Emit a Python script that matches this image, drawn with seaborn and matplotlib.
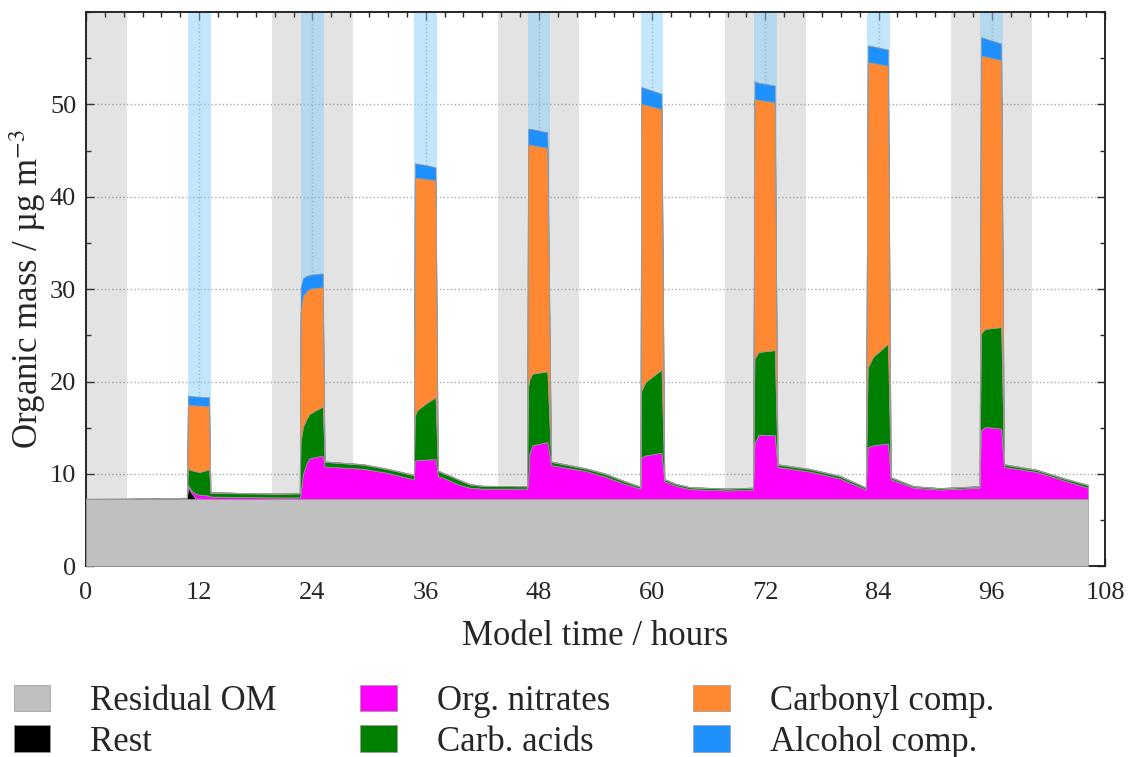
import numpy as np
import pandas as pd
import seaborn as sns
import matplotlib.pyplot as plt
from matplotlib.ticker import MultipleLocator

# model output (knots of the time series, hours)
time_h = [0.0, 4.3, 10.7, 10.8, 11.2, 11.6, 12.0, 12.6, 13.05, 13.2, 16.0, 20.0, 22.65,
          22.75, 23.0, 23.4, 23.7, 24.9, 25.1, 25.3, 29.4, 32.0, 34.75,
          34.85, 35.1, 36.0, 37.05, 37.3, 38.5, 39.6, 40.7, 42.0, 46.75,
          46.85, 47.0, 47.3, 48.9, 49.3, 53.0, 55.0, 57.0, 58.75,
          58.85, 59.3, 61.0, 61.3, 62.5, 64.0, 67.9, 70.7,
          70.85, 71.3, 73.0, 73.3, 76.7, 79.9, 82.65,
          82.85, 83.4, 85.0, 85.3, 87.7, 90.5, 94.7,
          94.85, 95.3, 97.0, 97.3, 100.8, 103.6, 106.2]

residual_om = [7.3] * len(time_h)

rest = [0, 0, 0, 1.3, 0.6, 0.05, 0.02, 0, 0, 0, 0, 0, 0,
        0, 0, 0, 0, 0, 0, 0, 0, 0, 0,
        0, 0, 0, 0, 0, 0, 0, 0, 0, 0,
        0, 0, 0, 0, 0, 0, 0, 0, 0,
        0, 0, 0, 0, 0, 0, 0, 0,
        0, 0, 0, 0, 0, 0, 0,
        0, 0, 0, 0, 0, 0, 0,
        0, 0, 0, 0, 0, 0, 0]

org_nitrates = [0, 0, 0.03, 0.2, 0.3, 0.5, 0.43, 0.4, 0.35, 0.25, 0.2, 0.15, 0.15,
                0.5, 2.7, 3.9, 4.4, 4.65, 4.6, 3.5, 3.25, 2.8, 2.1,
                4.1, 4.2, 4.25, 4.3, 2.5, 2.0, 1.5, 1.2, 1.1, 1.1,
                1.7, 4.9, 5.8, 6.15, 3.65, 3.0, 2.4, 1.65, 1.1,
                4.5, 4.7, 5.0, 1.9, 1.4, 1.05, 0.9, 1.0,
                6.0, 6.95, 6.9, 3.45, 2.95, 2.2, 1.0,
                5.6, 5.8, 6.0, 2.1, 1.2, 1.0, 1.2,
                7.4, 7.8, 7.6, 3.45, 2.9, 2.0, 1.2]

carb_acids = [0, 0.01, 0.08, 1.75, 2.2, 2.45, 2.45, 2.65, 2.85, 0.4, 0.4, 0.4, 0.43,
              5.7, 5.1, 4.8, 4.8, 5.25, 5.35, 0.5, 0.45, 0.4, 0.45,
              4.9, 5.4, 6.05, 6.7, 0.5, 0.5, 0.5, 0.35, 0.3, 0.25,
              10.4, 8.0, 7.75, 7.65, 0.35, 0.25, 0.3, 0.25, 0.2,
              7.2, 7.95, 9.0, 0.2, 0.2, 0.2, 0.2, 0.2,
              9.2, 8.95, 9.2, 0.25, 0.25, 0.25, 0.2,
              8.6, 9.55, 10.8, 0.2, 0.15, 0.15, 0.15,
              10.5, 10.6, 11.0, 0.25, 0.2, 0.2, 0.27]

carbonyl = [0, 0, 0.01, 6.95, 7.05, 7.12, 7.2, 7.03, 6.85, 0.1, 0.05, 0.05, 0.04,
            14.0, 14.2, 13.8, 13.55, 13.0, 12.95, 0.05, 0.05, 0.05, 0.05,
            25.8, 25.15, 24.35, 23.5, 0.05, 0.05, 0.05, 0.05, 0.02, 0.02,
            26.25, 25.47, 24.75, 24.2, 0.05, 0.05, 0.05, 0.05, 0.03,
            31.07, 30.0, 28.2, 0.05, 0.03, 0.02, 0.02, 0.02,
            28.1, 27.3, 26.85, 0.05, 0.05, 0.05, 0.03,
            33.1, 31.85, 30.1, 0.05, 0.03, 0.02, 0.02,
            30.1, 29.5, 28.9, 0.05, 0.05, 0.05, 0.03]

alcohols = [0, 0, 0, 1.0, 0.97, 0.96, 0.96, 0.95, 0.95, 0, 0, 0, 0,
            2.7, 1.9, 1.65, 1.51, 1.5, 1.5, 0, 0, 0, 0,
            1.55, 1.55, 1.5, 1.4, 0, 0, 0, 0, 0, 0,
            1.65, 1.73, 1.73, 1.7, 0, 0, 0, 0, 0,
            1.83, 1.8, 1.66, 0, 0, 0, 0, 0,
            1.9, 1.85, 1.8, 0, 0, 0, 0,
            1.8, 1.8, 1.75, 0, 0, 0, 0,
            2.0, 1.95, 1.8, 0, 0, 0, 0]

labels = ['Residual OM', 'Rest', 'Org. nitrates', 'Carb. acids', 'Carbonyl comp.', 'Alcohol comp.']
colors = ['#c0c0c0', 'black', 'magenta', 'green', '#ff8833', 'dodgerblue']

# night (grey) and cloud (blue) periods
night_start = [-4.3, 19.7, 43.7, 67.7, 91.7]
night_end = [4.3, 28.3, 52.3, 76.3, 100.3]
cloud_start = [10.8, 22.8, 34.8, 46.8, 58.8, 70.8, 82.8, 94.8]
cloud_end = [13.2, 25.2, 37.2, 49.2, 61.2, 73.2, 85.2, 97.2]

df = pd.DataFrame({'time': time_h, 'Residual OM': residual_om, 'Rest': rest,
                   'Org. nitrates': org_nitrates, 'Carb. acids': carb_acids,
                   'Carbonyl comp.': carbonyl, 'Alcohol comp.': alcohols})

sns.set_style('ticks')
plt.rcParams['font.family'] = ['Liberation Serif', 'DejaVu Serif']
plt.rcParams['mathtext.fontset'] = 'stix'

fig, ax = plt.subplots(figsize=(11.31, 7.57), dpi=100)
fig.subplots_adjust(left=0.076, right=0.977, top=0.984, bottom=0.252)

for s, e in zip(night_start, night_end):
    ax.axvspan(s, e, color='gray', alpha=0.22, lw=0, zorder=1)
for s, e in zip(cloud_start, cloud_end):
    ax.axvspan(s, e, color='lightskyblue', alpha=0.5, lw=0, zorder=1)

polys = ax.stackplot(df['time'], [df[c] for c in labels], labels=labels, colors=colors,
                     edgecolor='#999999', linewidth=0.5, zorder=3)

ax.grid(True, which='major', color='#aaaaaa', linestyle=':', linewidth=1.0, zorder=0)
ax.set_axisbelow(True)

ax.set_xlim(0, 108)
ax.set_ylim(0, 60)
ax.xaxis.set_major_locator(MultipleLocator(12))
ax.xaxis.set_minor_locator(MultipleLocator(2))
ax.yaxis.set_major_locator(MultipleLocator(10))
ax.yaxis.set_minor_locator(MultipleLocator(5))
ax.set_yticks([0, 10, 20, 30, 40, 50])
ax.tick_params(which='both', direction='in', top=True, right=True, width=1.0)
ax.tick_params(which='major', length=6, labelsize=19)
ax.tick_params(axis='x', which='major', pad=11)
ax.tick_params(axis='y', which='major', pad=7)
ax.tick_params(which='minor', length=3.5)
for sp in ax.spines.values():
    sp.set_linewidth(1.4)

ax.set_xlabel('Model time / hours', fontsize=25, labelpad=12)
ax.set_ylabel('Organic mass / µg m$^{-3}$', fontsize=25, labelpad=1)

fig.legend(polys, labels, loc='upper left', bbox_to_anchor=(14 / 1131, 1 - 685 / 757),
           ncol=3, frameon=False, fontsize=25, borderpad=0, borderaxespad=0,
           handlelength=1.05, handleheight=0.78, handletextpad=1.15,
           columnspacing=2.4, labelspacing=0.2)

plt.savefig('out.png', dpi=100)
